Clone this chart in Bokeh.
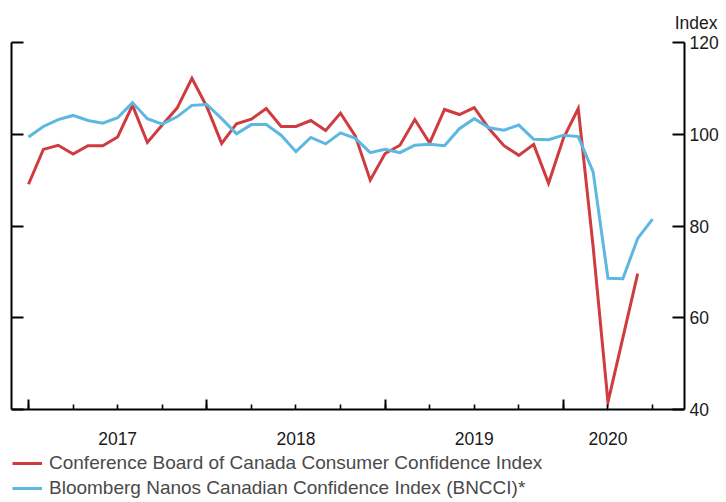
import pandas as pd
from bokeh.plotting import figure
from bokeh.models import (Range1d, LinearAxis, FixedTicker, Legend, LegendItem, Title)
from bokeh.embed import file_html
from bokeh.resources import INLINE

# ---- data (monthly, Jan 2017 onward) ----
start_month = "2017-01"
conference_board = [89.1, 96.7, 97.6, 95.7, 97.5, 97.5, 99.4, 106.3, 98.2, 102.0, 105.7, 112.2,
                    106.0, 98.0, 102.3, 103.3, 105.6, 101.7, 101.7, 103.0, 100.8, 104.6, 99.6, 90.0,
                    95.8, 97.6, 103.2, 98.1, 105.4, 104.3, 105.8, 101.2, 97.5, 95.4, 97.8, 89.3,
                    99.1, 105.6, 75.5, 41.6, 55.6, 69.6]
bloomberg_nanos = [99.4, 101.7, 103.2, 104.1, 103.0, 102.4, 103.6, 106.9, 103.4, 102.2, 103.8, 106.3,
                   106.5, 103.4, 100.1, 102.1, 102.1, 99.8, 96.2, 99.3, 97.9, 100.3, 99.1, 96.0,
                   96.7, 96.0, 97.6, 97.8, 97.5, 101.2, 103.4, 101.4, 100.9, 102.0, 98.9, 98.8,
                   99.8, 99.5, 91.8, 68.6, 68.5, 77.3, 81.5]
year_labels = {6: "2017", 18: "2018", 30: "2019", 39: "2020"}
year_starts = [0, 12, 24, 36]
quarter_ticks = list(range(0, 43, 3))
y_ticks = [40, 60, 80, 100, 120]
y_min, y_max = 40, 120
label_cb = "Conference Board of Canada Consumer Confidence Index"
label_bn = "Bloomberg Nanos Canadian Confidence Index (BNCCI)*"

dates = pd.date_range(start_month, periods=len(bloomberg_nanos), freq="MS")
xm = [int(v) for v in (dates.year - 2017) * 12 + dates.month - 1]

RED = "#cf3b3e"
BLUE = "#5cb8e0"
FONT = "Liberation Sans"
TXT = "#1a1a1a"

# frame extends below the value axis to hold the legend
AXIS_PX = 367          # pixel height of the 40..120 band
EXTRA_PX = 90          # room under the axis for year labels and legend
px_per_unit = AXIS_PX / (y_max - y_min)
y_start = y_min - EXTRA_PX / px_per_unit

p = figure(frame_width=673, frame_height=AXIS_PX + EXTRA_PX, output_backend="svg",
           toolbar_location=None,
           x_range=Range1d(-1.144, 44.15), y_range=Range1d(y_start, y_max),
           min_border_left=11, min_border_right=0, min_border_top=0, min_border_bottom=0)
p.outline_line_color = None
p.xgrid.visible = False
p.ygrid.visible = False
p.background_fill_color = "white"
p.border_fill_color = "white"

r1 = p.line(xm[:len(conference_board)], conference_board, line_color=RED, line_width=3, line_join="miter")
r2 = p.line(xm, bloomberg_nanos, line_color=BLUE, line_width=3, line_join="miter")

# bottom axis: tick marks only, drawn at y = 40
xa = p.xaxis[0]
xa.fixed_location = y_min
xa.ticker = FixedTicker(ticks=year_starts, minor_ticks=quarter_ticks)
xa.major_tick_in = 10
xa.major_tick_out = 0
xa.minor_tick_in = 5
xa.minor_tick_out = 0
xa.axis_line_width = 2
xa.major_tick_line_width = 2
xa.minor_tick_line_width = 1.6
xa.major_label_overrides = {t: "" for t in year_starts}
xa.major_label_text_font_size = "1px"
xa.major_label_standoff = 0

# bottom axis: year labels
xl = LinearAxis(ticker=FixedTicker(ticks=list(year_labels.keys()), minor_ticks=[]),
                major_label_overrides=year_labels, fixed_location=y_min)
xl.axis_line_color = None
xl.major_tick_line_color = None
xl.minor_tick_line_color = None
xl.major_label_text_font = FONT
xl.major_label_text_font_size = "17.5px"
xl.major_label_text_color = TXT
xl.major_label_standoff = 16
p.add_layout(xl, "below")

# left axis: spine and ticks only
ya = p.yaxis[0]
ya.bounds = (y_min, y_max)
ya.ticker = FixedTicker(ticks=y_ticks, minor_ticks=[])
ya.major_tick_in = 12
ya.major_tick_out = 0
ya.axis_line_width = 2
ya.major_tick_line_width = 2
ya.major_label_overrides = {t: "" for t in y_ticks}
ya.major_label_text_font_size = "1px"
ya.major_label_standoff = 0

# right axis with labels
yr = LinearAxis(ticker=FixedTicker(ticks=y_ticks, minor_ticks=[]), bounds=(y_min, y_max))
yr.major_tick_in = 12
yr.major_tick_out = 0
yr.axis_line_width = 2
yr.major_tick_line_width = 2
yr.major_label_text_font = FONT
yr.major_label_text_font_size = "17.5px"
yr.major_label_text_color = TXT
yr.major_label_standoff = 5
p.add_layout(yr, "right")

title = Title(text="Index", align="right", text_font=FONT, text_font_size="17.5px",
              text_font_style="normal", text_color=TXT, offset=-33, standoff=20)
p.add_layout(title, "above")

legend = Legend(items=[LegendItem(label=label_cb, renderers=[r1]),
                       LegendItem(label=label_bn, renderers=[r2])],
                location=(1, 0), orientation="vertical",
                glyph_width=30, glyph_height=18, label_height=18, label_standoff=7,
                spacing=3, padding=0, margin=0,
                label_text_font=FONT, label_text_font_size="19px", label_text_color="#4a4a4a",
                border_line_color=None, background_fill_alpha=0)
p.add_layout(legend, "center")

open("out.html", "w").write(file_html(p, INLINE))
